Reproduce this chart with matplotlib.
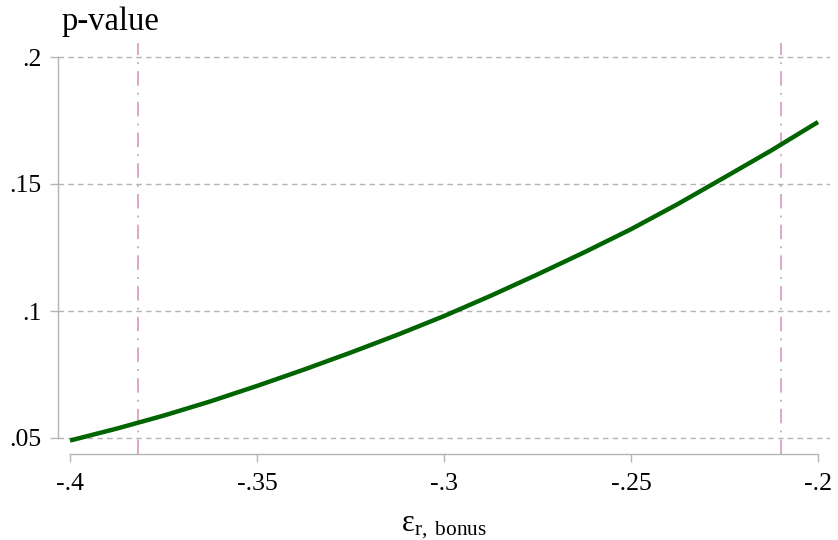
import matplotlib
matplotlib.use("Agg")
import matplotlib.pyplot as plt

# Data
eps = [-0.4, -0.3875, -0.375, -0.3625, -0.35, -0.3375, -0.325, -0.3125, -0.3,
       -0.2875, -0.275, -0.2625, -0.25, -0.2375, -0.225, -0.2125, -0.2]
pval = [0.0490, 0.0537, 0.0588, 0.0644, 0.0705, 0.0769, 0.0836, 0.0906, 0.0980,
        0.1060, 0.1144, 0.1231, 0.1322, 0.1421, 0.1526, 0.1632, 0.1744]
vlines = [-0.3818, -0.2099]
xticks = [-0.4, -0.35, -0.3, -0.25, -0.2]
xticklabels = ["-.4", "-.35", "-.3", "-.25", "-.2"]
yticks = [0.05, 0.1, 0.15, 0.2]
yticklabels = [".05", ".1", ".15", ".2"]

plt.rcParams['font.family'] = ['Liberation Serif', 'DejaVu Serif']
plt.rcParams['mathtext.fontset'] = 'custom'
plt.rcParams['mathtext.rm'] = 'Liberation Serif'
plt.rcParams['mathtext.it'] = 'Liberation Serif:italic'

W, H = 838, 540
fig = plt.figure(figsize=(W / 100, H / 100), dpi=100)
left, right, top, bottom = 58, 830, 43, 454
ax = fig.add_axes([left / W, 1 - bottom / H, (right - left) / W, (bottom - top) / H])

xs = 3740.0
ys = 2540.0
ax.set_xlim(-0.4 - 12 / xs, -0.2 + 12 / xs)
ax.set_ylim(0.05 - 16 / ys, 0.2 + 14 / ys)

gray = '#b4b4b4'
for y in yticks:
    ax.axhline(y, color=gray, lw=1.0, ls=(0, (4, 3)), zorder=1)
for v in vlines:
    ax.axvline(v, color='#d9a0c4', lw=1.3, ls=(0, (8, 4, 1, 4)), zorder=2)

ax.plot(eps, pval, color='#006400', lw=3.2, zorder=3,
        solid_capstyle='butt', solid_joinstyle='round')

for s in ['top', 'right']:
    ax.spines[s].set_visible(False)
ax.spines['left'].set_bounds(0.05, 0.2)
ax.spines['bottom'].set_bounds(-0.4, -0.2)
for s in ['left', 'bottom']:
    ax.spines[s].set_color(gray)
    ax.spines[s].set_linewidth(1.0)

ax.set_xticks(xticks)
ax.set_xticklabels(xticklabels, fontsize=18.5)
ax.set_yticks(yticks)
ax.set_yticklabels(yticklabels, fontsize=18.5)
ax.tick_params(axis='both', color=gray, length=6, width=1.0)
ax.tick_params(axis='x', pad=8)
ax.tick_params(axis='y', pad=6)

ax.set_xlabel(r'$\mathrm{ε}_{\mathrm{r,\ bonus}}$', fontsize=22, labelpad=12)
fig.text(62 / W, 1 - 22 / H, 'p-value', fontsize=23.5, va='center', ha='left')

fig.savefig('out.png', dpi=100)
